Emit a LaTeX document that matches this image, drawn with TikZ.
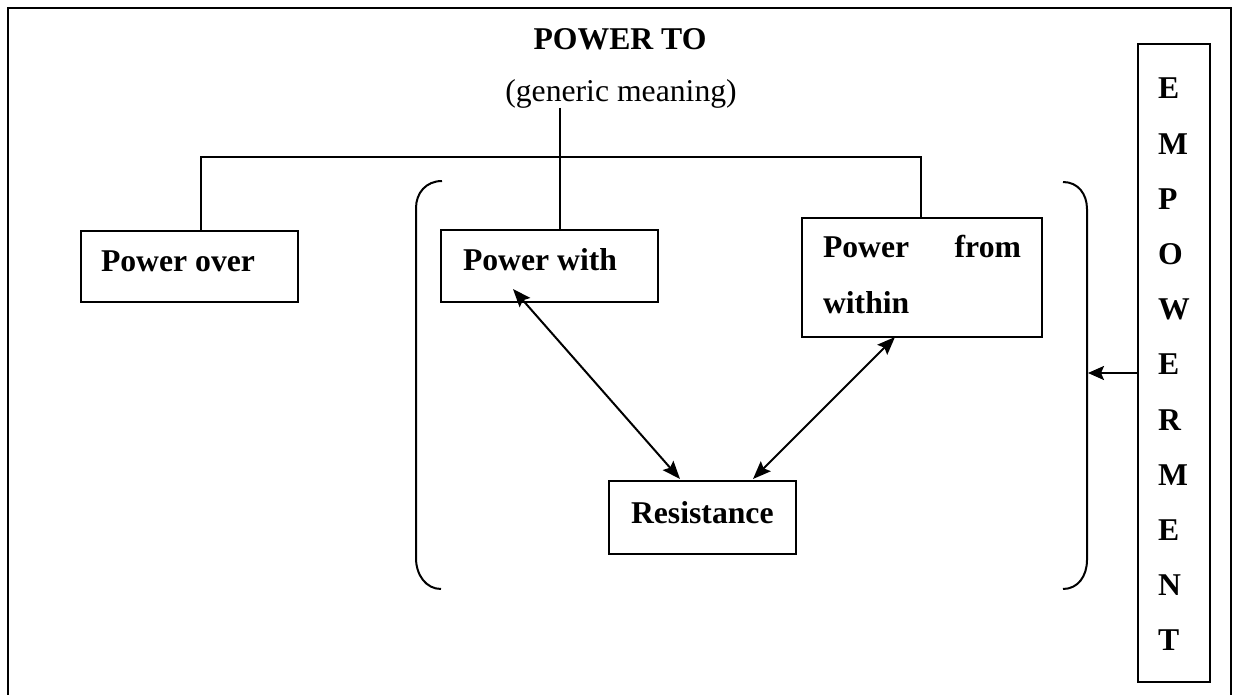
\documentclass[tikz,border=0pt]{standalone}
\usepackage{fontspec}
\setmainfont{Liberation Serif}
\usetikzlibrary{arrows.meta}
\newcommand\myfs{\fontsize{31.7}{38}\selectfont}
\begin{document}
\begin{tikzpicture}[x=1pt,y=-1pt,
  bx/.style={draw, line width=2pt, inner ysep=0pt, font=\myfs\bfseries, anchor=north west},
  ln/.style={line width=2pt},
  tip/.style={Stealth[length=18pt,width=14pt,inset=3pt]},
  dbl/.style={line width=2pt, {Stealth[length=18pt,width=14pt,inset=3pt]}-{Stealth[length=18pt,width=14pt,inset=3pt]}}]
\useasboundingbox (0,0) rectangle (1237,695);
% outer frame (open at the bottom)
\draw[line width=2.5pt] (8,700) -- (8,8) -- (1231,8) -- (1231,700);

% titles
\node[font=\myfs\bfseries, anchor=base, inner sep=0pt] (pt) at (620,50) {POWER TO};
\node[font=\myfs, anchor=base, inner sep=0pt] (gm) at (621,102) {(generic meaning)};

% boxes
\node[bx, inner xsep=20pt, text height=40pt, text depth=31pt] (po) at (80,230) {\parbox[t]{177pt}{Power over}};
\node[bx, inner xsep=22pt, text height=40pt, text depth=32pt] (pw) at (440,229) {\parbox[t]{173pt}{Power with}};
\node[bx, inner xsep=21pt, text height=40pt, text depth=79pt] (pfw) at (801,217) {\parbox[t]{198pt}{\fontsize{31.7}{55}\selectfont Power\hfill from\\within}};
\node[bx, inner xsep=22pt, text height=42pt, text depth=31pt] (rs) at (608,480) {\parbox[t]{143pt}{Resistance}};
\node[bx, inner xsep=20pt, text height=55pt, text depth=583pt] (emp) at (1137,43) {\parbox[t]{32pt}{\fontsize{31.7}{55.2}\selectfont E\\M\\P\\O\\W\\E\\R\\M\\E\\N\\T}};

% tree lines
\coordinate (t1) at (560,108);
\coordinate (hl) at (201,157);
\coordinate (hr) at (921,157);
\draw[ln] (t1) -- (t1 |- pw.north);
\draw[ln] (hl |- po.north) -- (hl) -- (hr) -- (hr |- pfw.north);

% double arrows
\coordinate (a1) at (513,289);
\coordinate (a2) at (680,479);
\coordinate (b1) at (895,337);
\coordinate (b2) at (753,479);
\draw[dbl] (a1) -- (a2);
\draw[dbl] (b1) -- (b2);

% brackets
\draw[ln] (442,181) .. controls (426,181) and (416,193) .. (416,208) -- (416,558) .. controls (416,575) and (426,589) .. (441,589);
\draw[ln] (1063,182) .. controls (1078,182) and (1087,194) .. (1087,209) -- (1087,560) .. controls (1087,576) and (1078,589) .. (1063,589);

% empowerment arrow
\coordinate (rb) at (1088,373);
\draw[line width=2pt, -{Stealth[length=16pt,width=14pt,inset=3pt]}] (emp.west |- rb) -- (rb);
\end{tikzpicture}
\end{document}
